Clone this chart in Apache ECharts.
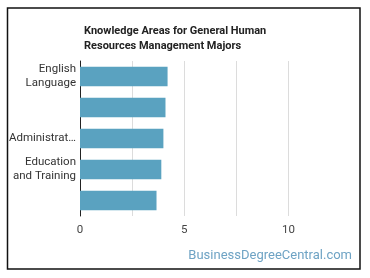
<!DOCTYPE html>
<html>
<head>
<meta charset="utf-8">
<script src="https://cdn.jsdelivr.net/npm/echarts@6/dist/echarts.min.js"></script>
<style>
html,body{margin:0;padding:0;background:#fff;}
#c{width:370px;height:278px;}
</style>
</head>
<body>
<div id="c"></div>
<script>
var titleText = "Knowledge Areas for General Human\nResources Management Majors";
var categories = ["English\nLanguage", "", "Administrat\u2026", "Education\nand Training", ""];
var values = [4.2, 4.1, 4.0, 3.9, 3.67];
var tickLabels = ["0", "5", "10"];
var watermark = "BusinessDegreeCentral.com";

var chart = echarts.init(document.getElementById('c'), null, {renderer: 'canvas'});
chart.setOption({
  animation: false,
  backgroundColor: '#fff',
  title: {
    text: titleText,
    left: 79, top: 19,
    textStyle: {fontFamily: 'Roboto', fontSize: 11, fontWeight: 'bold', color: '#222', lineHeight: 15}
  },
  graphic: [
    {type: 'rect', shape: {x: 7.5, y: 8, width: 352.5, height: 261}, style: {fill: 'none', stroke: '#111', lineWidth: 1.5}, silent: true},
    {type: 'text', right: 18, top: 249, style: {text: watermark, fill: '#6ea3c4', font: '13px Roboto'}}
  ],
  grid: {left: 80, right: 81.5, top: 61, bottom: 62, containLabel: false},
  xAxis: {
    type: 'value', min: 0, max: 10, interval: 2.5,
    axisLine: {show: false}, axisTick: {show: false},
    splitLine: {show: true, lineStyle: {color: '#dcdcdc', width: 1}},
    axisLabel: {
      margin: 8, color: '#444', fontFamily: 'Roboto', fontSize: 11.5,
      formatter: function (v) { var i = tickLabels.indexOf(String(v)); return i >= 0 ? tickLabels[i] : ''; }
    }
  },
  yAxis: {
    type: 'category', inverse: true,
    data: categories.map(function (c, i) { return {value: 'c' + i}; }),
    axisLine: {show: true, lineStyle: {color: '#222', width: 1}},
    axisTick: {show: false},
    axisLabel: {
      margin: 4, color: '#333', fontFamily: 'Roboto', fontSize: 11.5, lineHeight: 14, align: 'right',
      formatter: function (v, i) { return categories[i]; }
    }
  },
  series: [{
    type: 'bar', data: values, barWidth: 19.5,
    itemStyle: {color: '#5aa2c0'}
  }]
});
</script>
</body>
</html>
